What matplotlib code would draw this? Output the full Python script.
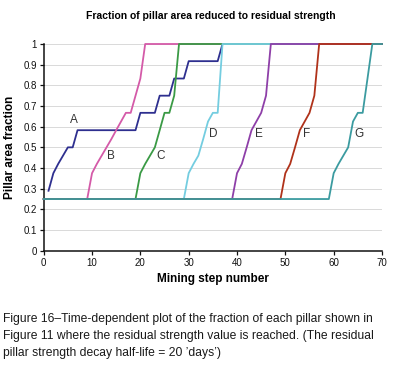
import matplotlib
matplotlib.use("Agg")
import matplotlib.pyplot as plt

# ---- data ----
steps_A = [1, 2, 3, 4, 5, 6, 7, 19, 20, 23, 24, 26, 27, 29, 30, 36, 37, 70]
frac_A = [0.29, 0.375, 0.42, 0.46, 0.5, 0.5, 0.583, 0.583, 0.667, 0.667, 0.75, 0.75, 0.833, 0.833, 0.917, 0.917, 1.0, 1.0]

steps_B = [0, 9, 10, 11, 12, 13, 14, 15, 16, 17, 18, 19, 20, 21, 70]
frac_B = [0.25, 0.25, 0.375, 0.42, 0.46, 0.5, 0.54, 0.583, 0.625, 0.667, 0.667, 0.75, 0.833, 1.0, 1.0]

steps_C = [0, 19, 20, 21, 22, 23, 24, 25, 26, 27, 28, 70]
frac_C = [0.25, 0.25, 0.375, 0.42, 0.46, 0.5, 0.583, 0.667, 0.667, 0.75, 1.0, 1.0]

steps_D = [0, 29, 30, 31, 32, 33, 34, 35, 36, 37, 70]
frac_D = [0.25, 0.25, 0.375, 0.42, 0.46, 0.54, 0.625, 0.667, 0.667, 1.0, 1.0]

steps_E = [0, 39, 40, 41, 42, 43, 44, 45, 46, 47, 70]
frac_E = [0.25, 0.25, 0.375, 0.42, 0.5, 0.583, 0.625, 0.667, 0.75, 1.0, 1.0]

steps_F = [0, 49, 50, 51, 52, 53, 54, 55, 56, 57, 70]
frac_F = [0.25, 0.25, 0.375, 0.42, 0.5, 0.583, 0.625, 0.667, 0.75, 1.0, 1.0]

steps_G = [0, 59, 60, 61, 62, 63, 64, 65, 66, 67, 68, 70]
frac_G = [0.25, 0.25, 0.375, 0.42, 0.46, 0.5, 0.625, 0.667, 0.667, 0.833, 1.0, 1.0]

labels = ["A", "B", "C", "D", "E", "F", "G"]
label_x = [6.3, 13.9, 24.1, 35.1, 44.6, 54.4, 65.3]
label_y = [0.63, 0.46, 0.46, 0.565, 0.565, 0.565, 0.565]

x_ticks = [0, 10, 20, 30, 40, 50, 60, 70]
y_ticks = [0, 0.1, 0.2, 0.3, 0.4, 0.5, 0.6, 0.7, 0.8, 0.9, 1.0]
y_tick_labels = ["0", "0.1", "0.2", "0.3", "0.4", "0.5", "0.6", "0.7", "0.8", "0.9", "1"]

title = "Fraction of pillar area reduced to residual strength"
xlabel = "Mining step number"
ylabel = "Pillar area fraction"
caption = ["Figure 16\u2013Time-dependent plot of the fraction of each pillar shown in",
           "Figure 11 where the residual strength value is reached. (The residual",
           "pillar strength decay half-life = 20 \u2019days\u2019)"]

colors = ["#2e2f8f", "#d45aa8", "#3a9a45", "#74cde0", "#8e3fa8", "#b0321a", "#3b9ba0"]

plt.rcParams['font.family'] = ['Liberation Sans', 'DejaVu Sans']

W, H = 403, 371
fig = plt.figure(figsize=(W / 100, H / 100), dpi=100)
ax = fig.add_axes([43.7 / W, 1 - 250.7 / H, (382 - 43.7) / W, (250.7 - 44) / H])

series = [(steps_A, frac_A), (steps_B, frac_B), (steps_C, frac_C), (steps_D, frac_D),
          (steps_E, frac_E), (steps_F, frac_F), (steps_G, frac_G)]
for (xs, ys), c in zip(series, colors):
    ax.plot(xs, ys, color=c, lw=1.3, solid_joinstyle='round', clip_on=False, zorder=3)

for lab, lx, ly in zip(labels, label_x, label_y):
    ax.text(lx, ly, lab, fontsize=8.5, color="#333333", ha='center', va='center', zorder=4)

ax.set_xlim(0, 70)
ax.set_ylim(0, 1)
ax.set_xticks(x_ticks)
ax.set_xticklabels([str(t) for t in x_ticks])
ax.set_yticks(y_ticks)
ax.set_yticklabels(y_tick_labels)
ax.yaxis.grid(True, color="#d9d9d9", lw=0.7)
ax.set_axisbelow(True)
for s in ["top", "right"]:
    ax.spines[s].set_visible(False)
for s in ["left", "bottom"]:
    ax.spines[s].set_linewidth(1.1)
    ax.spines[s].set_color("#111111")
ax.tick_params(axis='both', direction='out', length=3, width=0.9, labelsize=7, colors="#111111", pad=2)

ax.set_xlabel(xlabel, fontsize=8.5, fontweight='bold', labelpad=4)
ax.set_ylabel(ylabel, fontsize=8.5, fontweight='bold', labelpad=5)

fig.text(211 / W, 1 - 16 / H, title, fontsize=7.5, fontweight='bold', ha='center', va='center')

cap_y = [319, 336, 353]
for line, yy in zip(caption, cap_y):
    fig.text(3 / W, 1 - yy / H, line, fontsize=8.7, color="#1a1a1a", ha='left', va='center')

fig.savefig("out.png", dpi=100)
